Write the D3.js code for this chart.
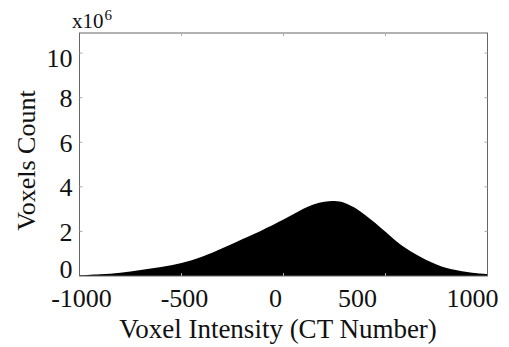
<!DOCTYPE html>
<html>
<head>
<meta charset="utf-8">
<script src="https://cdn.jsdelivr.net/npm/d3@7"></script>
<style>
  body { margin: 0; background: #fff; }
  svg text { font-family: "Liberation Serif", "Times New Roman", Times, serif; fill: #111; }
</style>
</head>
<body>
<div id="chart"></div>
<script>
// CT number (x) and voxel count in millions (y)
const ctNumbers = [-1000, -900, -800, -700, -600, -500, -400, -300, -200, -100, -50, 0, 50, 100, 150, 200, 250, 300, 350, 400, 450, 500, 550, 600, 650, 700, 750, 800, 850, 900, 950, 1000];
const voxelCounts = [0.03, 0.08, 0.15, 0.27, 0.40, 0.58, 0.86, 1.24, 1.66, 2.08, 2.30, 2.53, 2.78, 3.03, 3.22, 3.33, 3.36, 3.28, 3.06, 2.74, 2.38, 1.98, 1.58, 1.24, 0.96, 0.72, 0.52, 0.36, 0.26, 0.18, 0.12, 0.08];
const xTicks = [-1000, -500, 0, 500, 1000];
const yTicks = [0, 2, 4, 6, 8, 10];
const xInnerTicks = [-500, 0, 500];
const yInnerTicks = [2, 4, 6, 8, 10];

// label placement tweaks to follow the original figure
const xLabelNudge = { '-1000': 1.5, '-500': 2.5, '0': -8.5, '500': -28.5, '1000': -15.5 };
const yLabelNudge = { '0': -7, '10': 5 };

const data = ctNumbers.map((c, i) => ({ ct: c, count: voxelCounts[i] }));

const W = 509, H = 347;
const plot = { left: 79.5, right: 487.5, top: 33, bottom: 276 };
const serif = '"Liberation Serif", "Times New Roman", Times, serif';

const svg = d3.select('#chart').append('svg')
  .attr('width', W)
  .attr('height', H);

const x = d3.scaleLinear().domain([-1000, 1000]).range([plot.left, plot.right]);
const y = d3.scaleLinear().domain([0, 10.9]).range([plot.bottom, plot.top]);

// filled histogram envelope
const area = d3.area()
  .x(d => x(d.ct))
  .y0(y(0))
  .y1(d => y(d.count))
  .curve(d3.curveCatmullRom.alpha(0.5));

svg.append('path')
  .datum(data)
  .attr('d', area)
  .attr('fill', '#000');

// box
svg.append('rect')
  .attr('x', plot.left)
  .attr('y', plot.top)
  .attr('width', plot.right - plot.left)
  .attr('height', plot.bottom - plot.top)
  .attr('fill', 'none')
  .attr('stroke', '#666')
  .attr('stroke-width', 1);

// small inward ticks on all sides
const tk = svg.append('g').attr('stroke', '#aaa').attr('stroke-width', 1);
xInnerTicks.forEach(t => {
  tk.append('line').attr('x1', x(t)).attr('x2', x(t)).attr('y1', plot.top).attr('y2', plot.top + 3);
  tk.append('line').attr('x1', x(t)).attr('x2', x(t)).attr('y1', plot.bottom).attr('y2', plot.bottom - 3);
});
yInnerTicks.forEach(t => {
  tk.append('line').attr('x1', plot.left).attr('x2', plot.left + 3).attr('y1', y(t)).attr('y2', y(t));
  tk.append('line').attr('x1', plot.right).attr('x2', plot.right - 3).attr('y1', y(t)).attr('y2', y(t));
});

// x axis labels
const xAxis = svg.append('g')
  .attr('transform', `translate(0,${plot.bottom})`)
  .call(d3.axisBottom(x).tickValues(xTicks).tickSize(0).tickFormat(d => String(d)));
xAxis.attr('font-family', serif);
xAxis.select('.domain').remove();
xAxis.selectAll('text')
  .attr('dy', null)
  .attr('y', 31)
  .attr('dx', d => xLabelNudge[String(d)] || 0)
  .style('font-size', '26px')
  .style('font-family', serif);

// y axis labels
const yAxis = svg.append('g')
  .attr('transform', `translate(${plot.left},0)`)
  .call(d3.axisLeft(y).tickValues(yTicks).tickSize(0).tickPadding(7));
yAxis.attr('font-family', serif);
yAxis.select('.domain').remove();
yAxis.selectAll('text')
  .attr('dy', '0.34em')
  .attr('y', d => yLabelNudge[String(d)] || 0)
  .style('font-size', '26px')
  .style('font-family', serif);

// multiplier
const mult = svg.append('text')
  .attr('x', 72)
  .attr('y', 28)
  .style('font-family', serif)
  .style('font-size', '21px');
mult.append('tspan').text('x10');
mult.append('tspan').attr('dx', 1).attr('dy', -8).style('font-size', '15px').text('6');

// axis titles
svg.append('text')
  .attr('x', 278)
  .attr('y', 338)
  .attr('text-anchor', 'middle')
  .style('font-family', serif)
  .style('font-size', '27px')
  .text('Voxel Intensity (CT Number)');

svg.append('text')
  .attr('transform', 'translate(35,160.5) rotate(-90)')
  .attr('text-anchor', 'middle')
  .style('font-family', serif)
  .style('font-size', '26px')
  .text('Voxels Count');
</script>
</body>
</html>
